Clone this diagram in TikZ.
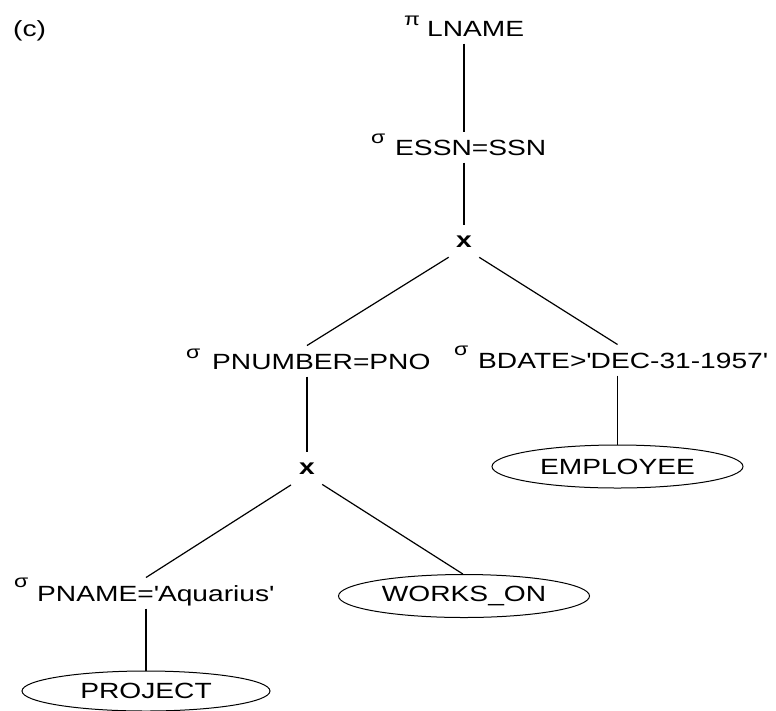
\documentclass[tikz,border=0pt]{standalone}
\usepackage{fontspec}
\setmainfont{Liberation Sans}[FakeStretch=1.28]
\usetikzlibrary{shapes.geometric}
\begin{document}
\begin{tikzpicture}[x=1pt,y=-1pt]
\tikzset{
 lbl/.style={inner xsep=0pt, inner ysep=7.5pt, text height=15.8pt, text depth=0pt, anchor=base west, font=\fontsize{22}{26}\selectfont},
 gk/.style={inner sep=0pt, anchor=base west, font=\fontsize{18}{22}\selectfont},
 prod/.style={inner xsep=0pt, inner ysep=11.5pt, text height=11.4pt, text depth=0pt, font=\fontsize{22}{26}\selectfont\bfseries},
 rel/.style={ellipse, draw, line width=1pt, inner sep=0pt, minimum width=251pt, minimum height=43pt, font=\fontsize{22}{26}\selectfont},
 edge/.style={line width=1.2pt}
}
\useasboundingbox (0,0) rectangle (776,710);
\node[lbl] (c) at (13,36) {(c)};
\node[lbl] (lname) at (427,36) {LNAME};
\node[gk] (pisym) at (404,25) {π};
\node[lbl] (essn) at (395,155) {ESSN=SSN};
\node[gk] (s1) at (371,143) {σ};
\node[prod] (x1) at (464,242) {x};
\node[lbl] (pnum) at (212,369) {PNUMBER=PNO};
\node[gk] (s2) at (186,358) {σ};
\node[lbl] (bdate) at (478,368) {BDATE>\textquotesingle DEC-31-1957\textquotesingle};
\node[gk] (s3) at (454,355) {σ};
\node[rel] (emp) at (617.5,466.5) {EMPLOYEE};
\node[prod] (x2) at (307,469) {x};
\node[lbl] (pname) at (37,601) {PNAME=\textquotesingle Aquarius\textquotesingle};
\node[gk] (s4) at (14,587) {σ};
\node[rel] (works) at (464,596) {WORKS\_ON};
\node[rel, minimum height=40pt, minimum width=248pt] (proj) at (146,691) {PROJECT};
\draw[edge] (lname.south -| x1) -- (essn.north -| x1);
\draw[edge] (essn.south -| x1) -- (x1.north);
\draw[edge, shorten <=18pt] (x1.base) -- (pnum.north -| x2);
\draw[edge, shorten <=18pt] (x1.base) -- (bdate.north -| emp);
\draw[edge] (pnum.south -| x2) -- (x2.north);
\draw[edge] (bdate.south -| emp) -- (emp.north);
\draw[edge, shorten <=19pt] (x2.base) -- (pname.north -| proj);
\draw[edge, shorten <=18pt] (x2.base) -- (works.93);
\draw[edge] (pname.south -| proj) -- (proj.north);
\end{tikzpicture}
\end{document}
